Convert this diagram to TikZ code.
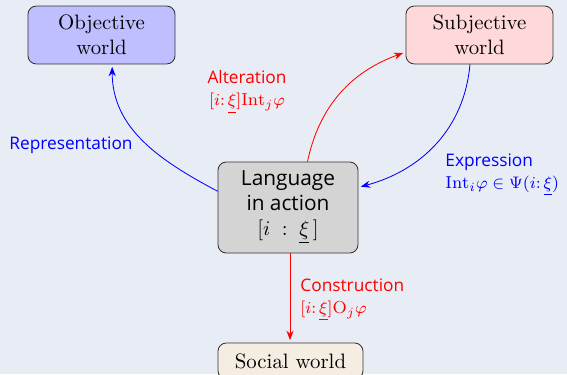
\documentclass[tikz,border=0pt]{standalone}
\usepackage{fontspec}
\setsansfont{Open Sans}
\usepackage{tikz}
\usetikzlibrary{arrows.meta, positioning}
\definecolor{bgcol}{RGB}{232,236,244}
\definecolor{objfill}{RGB}{191,191,255}
\definecolor{subjfill}{RGB}{255,217,217}
\definecolor{socfill}{RGB}{245,237,226}
\newcommand{\agentof}{[i\colon \underline{\xi}]}

\begin{document}
\begin{tikzpicture}[x=0.48pt, y=0.48pt, every node/.style={align=center}]
  \tikzset{world/.style={draw=black!80, rounded corners=4pt, minimum width=70.6pt, minimum height=27.8pt},
    note/.style={font=\sffamily\fontsize{8.3}{10.5}\selectfont, inner sep=0pt},
    link/.style={-{Stealth[length=4.5pt, width=3.4pt]}, shorten >=1.2pt}}
  \fill[bgcol] (0,0) rectangle (567,-374);
  \useasboundingbox (0,0) rectangle (567,-374);
  \node[world, fill=objfill] (obj) at (101.5,-35) {Objective\\world};
  \node[world, fill=subjfill] (subj) at (479.5,-35) {Subjective\\world};
  \node[world, fill=black!17, minimum width=67.2pt, minimum height=43.7pt, font=\sffamily] (lang) at (288,-207.5) {Language\\in action\\$[i \;:\; \underline{\xi}\,]$};
  \node[world, fill=socfill, minimum width=69.6pt, minimum height=17.3pt] (soc) at (290.5,-361) {Social world};
  \coordinate (top) at (290,-253);
  % arcs round the center
  \draw[link, blue] (lang.167) to[out=152, in=-90] (obj.-70);
  \draw[link, red] (lang.67) to[out=78, in=200] (subj.193);
  \draw[link, blue] (subj.-108) to[out=-95, in=15] (lang.16);
  \draw[link, red] (top) -- (soc.north -| top);
  % labels
  \node[note, text=blue] (rep) at (71,-145) {Representation};
  \node[note, text=red] (alt) at (247,-92) {Alteration\\$\agentof\mathrm{Int}_j\varphi$};
  \node[note, text=blue, anchor=west, align=left] (expr) at (445,-175) {Expression\\$\mathrm{Int}_i\varphi \in \Psi(i\colon \underline{\xi})$};
  \node[note, text=red, anchor=west, align=left] (cons) at (300,-300) {Construction\\$\agentof\mathrm{O}_j\varphi$};
\end{tikzpicture}
\end{document}
